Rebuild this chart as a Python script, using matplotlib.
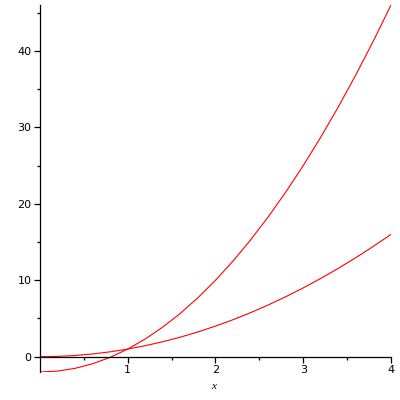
import matplotlib
matplotlib.use("Agg")
import matplotlib.pyplot as plt
from matplotlib.ticker import FixedLocator

x_vals = [0.0, 0.2, 0.4, 0.6, 0.8, 1.0, 1.2, 1.4, 1.6, 1.8, 2.0,
          2.2, 2.4, 2.6, 2.8, 3.0, 3.2, 3.4, 3.6, 3.8, 4.0]
curve_low = [0, 0.04, 0.16, 0.36, 0.64, 1, 1.44, 1.96, 2.56, 3.24, 4,
             4.84, 5.76, 6.76, 7.84, 9, 10.24, 11.56, 12.96, 14.44, 16]
curve_high = [-2, -1.88, -1.52, -0.92, -0.08, 1, 2.32, 3.88, 5.68, 7.72, 10,
              12.52, 15.28, 18.28, 21.52, 25, 28.72, 32.68, 36.88, 41.32, 46]
x_ticks = [1, 2, 3, 4]
y_ticks = [0, 10, 20, 30, 40]

fig = plt.figure(figsize=(4, 4), dpi=100)
ax = fig.add_axes([0.1, 0.07, 0.8775, 0.9175])
ax.plot(x_vals, curve_high, color='#ff0000', lw=0.8)
ax.plot(x_vals, curve_low, color='#ff0000', lw=0.8)
ax.set_xlim(0, 4)
ax.set_ylim(-2, 46)

ax.spines['right'].set_visible(False)
ax.spines['top'].set_visible(False)
ax.spines['left'].set_position(('data', 0))
ax.spines['bottom'].set_position(('data', 0))
for s in ('left', 'bottom'):
    ax.spines[s].set_linewidth(0.9)

ax.xaxis.set_major_locator(FixedLocator(x_ticks))
ax.xaxis.set_minor_locator(FixedLocator([0.5, 1.5, 2.5, 3.5]))
ax.yaxis.set_major_locator(FixedLocator(y_ticks))
ax.yaxis.set_minor_locator(FixedLocator([5, 15, 25, 35, 45]))
ax.tick_params(axis='both', which='major', direction='out', length=4, width=0.9,
               labelsize=8, pad=2)
ax.tick_params(axis='both', which='minor', direction='out', length=2.5, width=0.9)

ax.set_xlabel('x', fontsize=8, fontstyle='italic', family='Liberation Serif')
ax.xaxis.set_label_coords(0.495, -0.028)

fig.savefig('out.png', dpi=100)
